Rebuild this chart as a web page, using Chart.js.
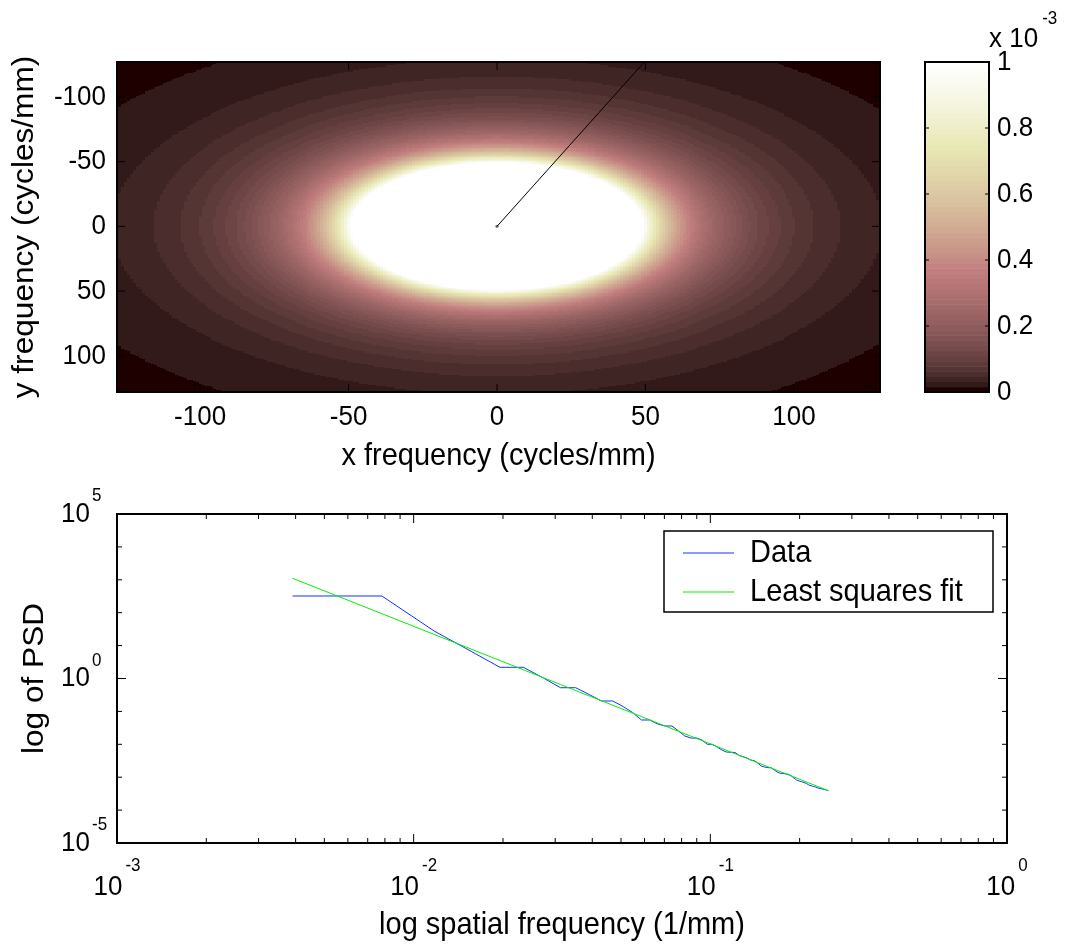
<!DOCTYPE html>
<html>
<head>
<meta charset="utf-8">
<title>PSD</title>
<script src="https://cdn.jsdelivr.net/npm/chart.js@4.4.1/dist/chart.umd.min.js"></script>
<style>
  body { margin: 0; background: #fff; width: 1065px; height: 945px; overflow: hidden; position: relative; }
  canvas { position: absolute; }
  #mapChart { left: 0; top: 0; }
  #barChart { left: 900px; top: 0; }
  #psdChart { left: 0; top: 480px; }
</style>
</head>
<body>
<canvas id="mapChart" width="900" height="480"></canvas>
<canvas id="barChart" width="165" height="480"></canvas>
<canvas id="psdChart" width="1065" height="465"></canvas>
<script>
// radially averaged PSD, one bin per 1/256 mm^-1
const binFreq = [
  0.003906, 0.007813, 0.01172, 0.01563, 0.01953, 0.02344, 0.02734, 0.03125,
  0.03516, 0.03906, 0.04297, 0.04688, 0.05078, 0.05469, 0.05859, 0.0625,
  0.06641, 0.07031, 0.07422, 0.07813, 0.08203, 0.08594, 0.08984, 0.09375,
  0.09766, 0.1016, 0.1055, 0.1094, 0.1133, 0.1172, 0.1211, 0.125,
  0.1289, 0.1328, 0.1367, 0.1406, 0.1445, 0.1484, 0.1523, 0.1563,
  0.1602, 0.1641, 0.1680, 0.1719, 0.1758, 0.1797, 0.1836, 0.1875,
  0.1914, 0.1953, 0.1992, 0.2031, 0.2070, 0.2109, 0.2148, 0.2188,
  0.2227, 0.2266, 0.2305, 0.2344, 0.2383, 0.2422, 0.2461, 0.25
];
const binPsd = [
  322, 322, 27.8, 6.67, 2.19, 2.19, 1.04, 0.525,
  0.525, 0.327, 0.207, 0.207, 0.141, 0.0927, 0.0548, 0.0548,
  0.0414, 0.0360, 0.0360, 0.0254, 0.0179, 0.0155, 0.0155, 0.0135,
  0.0100, 0.0100, 0.00828, 0.00671, 0.00583, 0.00571, 0.00564, 0.00457,
  0.00420, 0.00384, 0.00333, 0.00318, 0.00270, 0.00219, 0.00204, 0.00195,
  0.00195, 0.00166, 0.00144, 0.00131, 0.00131, 0.00125, 0.00122, 0.00109,
  0.000946, 0.000822, 0.000766, 0.000730, 0.000690, 0.000644, 0.000579, 0.000552,
  0.000521, 0.000504, 0.000470, 0.000454, 0.000438, 0.000423, 0.000408, 0.000389
];

// power-law least squares fit, end points of the fitted line
const fitFreq = [0.003906, 0.25];
const fitPsd = [1112, 0.000389];

// 2-D spectrum: cell grid (cycles/mm), frequency per cell, colour limit
const gridMin = -128;
const gridMax = 128;
const cellFreq = 1 / 256;
const colorMax = 1e-3;
const colorLevels = 64;

// radial profile line drawn over the map
const profileX = [0, 50];
const profileY = [0, -128];

// ticks
const mapTicks = [-100, -50, 0, 50, 100];
const barTicks = [0, 0.2, 0.4, 0.6, 0.8, 1];
const barTickText = ['0', '0.2', '0.4', '0.6', '0.8', '1'];
const freqDecades = [-3, -2, -1, 0];
const psdDecades = [-5, -4, -3, -2, -1, 0, 1, 2, 3, 4, 5];
const psdLabelled = [-5, 0, 5];

const FONT = '"Liberation Sans", Arial, Helvetica, sans-serif';
const TICK_FONT = '26px ' + FONT;
const TITLE_FONT = '29px ' + FONT;
const SUP_FONT = '17px ' + FONT;
const TEXT_SY = 1.09;   // glyphs are a little taller than wide

// MATLAB "pink" colormap
function pinkMap(m) {
  const n = Math.floor(3 / 8 * m);
  const out = [];
  for (let i = 0; i < m; i++) {
    const gray = i / (m - 1);
    const hr = i < n ? (i + 1) / n : 1;
    const hg = i < n ? 0 : (i < 2 * n ? (i + 1 - n) / n : 1);
    const hb = i < 2 * n ? 0 : (i + 1 - 2 * n) / (m - 2 * n);
    out.push([hr, hg, hb].map(h => Math.round(255 * Math.sqrt((2 * gray + h) / 3))));
  }
  return out;
}
const pink = pinkMap(colorLevels);

function fitLog(freq) {
  const lx0 = Math.log10(fitFreq[0]), lx1 = Math.log10(fitFreq[1]);
  const ly0 = Math.log10(fitPsd[0]), ly1 = Math.log10(fitPsd[1]);
  return ly0 + (ly1 - ly0) * (Math.log10(freq) - lx0) / (lx1 - lx0);
}

// paint the spectrum once into a small bitmap, one pixel per cell
function buildSpectrum() {
  const n = gridMax - gridMin + 1;
  const cv = document.createElement('canvas');
  cv.width = n;
  cv.height = n;
  const c = cv.getContext('2d');
  const img = c.createImageData(n, n);
  for (let j = 0; j < n; j++) {
    for (let i = 0; i < n; i++) {
      const r = Math.hypot(gridMin + i, gridMin + j);
      const v = r === 0 ? Infinity : Math.pow(10, fitLog(r * cellFreq));
      const idx = Math.max(0, Math.min(colorLevels - 1, Math.floor(v / colorMax * colorLevels)));
      const p = (j * n + i) * 4;
      img.data[p] = pink[idx][0];
      img.data[p + 1] = pink[idx][1];
      img.data[p + 2] = pink[idx][2];
      img.data[p + 3] = 255;
    }
  }
  c.putImageData(img, 0, 0);
  return cv;
}
const spectrum = buildSpectrum();

function seg(ctx, x0, y0, x1, y1) {
  ctx.beginPath();
  ctx.moveTo(x0, y0);
  ctx.lineTo(x1, y1);
  ctx.stroke();
}

// text with the slight vertical stretch, optionally turned
function text(ctx, str, x, y, font, align, baseline, angle) {
  ctx.save();
  ctx.translate(x, y);
  ctx.scale(1, TEXT_SY);
  if (angle) ctx.rotate(angle);
  ctx.font = font;
  ctx.textAlign = align;
  ctx.textBaseline = baseline;
  ctx.fillStyle = '#000';
  ctx.fillText(str, 0, 0);
  ctx.restore();
}

function textWidth(ctx, str, font) {
  ctx.save();
  ctx.font = font;
  const w = ctx.measureText(str).width;
  ctx.restore();
  return w;
}

function box(ctx, a) {
  ctx.strokeStyle = '#000';
  ctx.lineWidth = 2;
  ctx.strokeRect(a.left, a.top, a.right - a.left, a.bottom - a.top);
}

// inward ticks on both sides of the box
function xTicks(ctx, a, scale, values, len) {
  ctx.lineWidth = 1;
  values.forEach(v => {
    const p = scale.getPixelForValue(v);
    seg(ctx, p, a.bottom, p, a.bottom - len);
    seg(ctx, p, a.top, p, a.top + len);
  });
}
function yTicks(ctx, a, scale, values, len) {
  ctx.lineWidth = 1;
  values.forEach(v => {
    const p = scale.getPixelForValue(v);
    seg(ctx, a.left, p, a.left + len, p);
    seg(ctx, a.right, p, a.right - len, p);
  });
}

const spectrumPlugin = {
  id: 'spectrum',
  beforeDatasetsDraw(chart) {
    const { ctx, chartArea: a, scales: { x, y } } = chart;
    const left = x.getPixelForValue(gridMin - 0.5);
    const right = x.getPixelForValue(gridMax + 0.5);
    const top = y.getPixelForValue(gridMin - 0.5);
    const bottom = y.getPixelForValue(gridMax + 0.5);
    ctx.save();
    ctx.beginPath();
    ctx.rect(a.left, a.top, a.right - a.left, a.bottom - a.top);
    ctx.clip();
    ctx.imageSmoothingEnabled = false;
    ctx.drawImage(spectrum, left, top, right - left, bottom - top);
    ctx.restore();
  },
  afterDraw(chart) {
    const { ctx, chartArea: a, scales: { x, y } } = chart;
    ctx.save();
    ctx.strokeStyle = '#000';
    xTicks(ctx, a, x, mapTicks, 8);
    yTicks(ctx, a, y, mapTicks, 8);
    box(ctx, a);
    mapTicks.forEach(v => text(ctx, String(v), x.getPixelForValue(v), a.bottom + 33, TICK_FONT, 'center', 'alphabetic'));
    mapTicks.forEach(v => text(ctx, String(v), a.left - 11, y.getPixelForValue(v), TICK_FONT, 'right', 'middle'));
    text(ctx, 'x frequency (cycles/mm)', (a.left + a.right) / 2, a.bottom + 73, TITLE_FONT, 'center', 'alphabetic');
    text(ctx, 'y frequency (cycles/mm)', 33, (a.top + a.bottom) / 2, TITLE_FONT, 'center', 'alphabetic', -Math.PI / 2);
    ctx.restore();
  }
};

const colorbarPlugin = {
  id: 'colorbar',
  beforeDatasetsDraw(chart) {
    const { ctx, chartArea: a, scales: { y } } = chart;
    for (let i = 0; i < colorLevels; i++) {
      const y0 = y.getPixelForValue(i / colorLevels);
      const y1 = y.getPixelForValue((i + 1) / colorLevels);
      ctx.fillStyle = `rgb(${pink[i].join(',')})`;
      ctx.fillRect(a.left, y1, a.right - a.left, y0 - y1 + 0.5);
    }
  },
  afterDraw(chart) {
    const { ctx, chartArea: a, scales: { y } } = chart;
    ctx.save();
    ctx.strokeStyle = '#000';
    yTicks(ctx, a, y, barTicks, 4);
    box(ctx, a);
    barTicks.forEach((v, i) => text(ctx, barTickText[i], a.right + 8, y.getPixelForValue(v), TICK_FONT, 'left', 'middle'));
    text(ctx, 'x 10', a.right, a.top - 15, TICK_FONT, 'left', 'alphabetic');
    const w = textWidth(ctx, 'x 10', TICK_FONT);
    text(ctx, '-3', a.right + w + 4, a.top - 38, SUP_FONT, 'left', 'alphabetic');
    ctx.restore();
  }
};

// "10" with a raised exponent
function powerLabelX(ctx, exp, px, baseY) {
  const wb = textWidth(ctx, '10', TICK_FONT);
  const we = textWidth(ctx, String(exp), SUP_FONT);
  const x0 = px - (wb + 3 + we) / 2;
  text(ctx, '10', x0, baseY, TICK_FONT, 'left', 'alphabetic');
  text(ctx, String(exp), x0 + wb + 3, baseY - 24, SUP_FONT, 'left', 'alphabetic');
}
function powerLabelY(ctx, exp, right, py) {
  text(ctx, '10', right, py, TICK_FONT, 'right', 'middle');
  text(ctx, String(exp), right + 2, py - 13, SUP_FONT, 'left', 'alphabetic');
}

const psdAxesPlugin = {
  id: 'psdAxes',
  afterDraw(chart) {
    const { ctx, chartArea: a, scales: { x, y } } = chart;
    ctx.save();
    ctx.strokeStyle = '#000';
    const minor = [];
    freqDecades.slice(0, -1).forEach(d => {
      for (let m = 2; m <= 9; m++) minor.push(m * Math.pow(10, d));
    });
    xTicks(ctx, a, x, minor, 5);
    xTicks(ctx, a, x, freqDecades.map(d => Math.pow(10, d)), 9);
    yTicks(ctx, a, y, psdDecades.filter(d => !psdLabelled.includes(d)).map(d => Math.pow(10, d)), 5);
    yTicks(ctx, a, y, psdLabelled.map(d => Math.pow(10, d)), 9);
    box(ctx, a);

    freqDecades.forEach(d => powerLabelX(ctx, d, x.getPixelForValue(Math.pow(10, d)), a.bottom + 52));
    psdLabelled.forEach(d => powerLabelY(ctx, d, a.left - 27, y.getPixelForValue(Math.pow(10, d))));

    text(ctx, 'log spatial frequency (1/mm)', (a.left + a.right) / 2, a.bottom + 91, TITLE_FONT, 'center', 'alphabetic');
    text(ctx, 'log of PSD', 43, (a.top + a.bottom) / 2, TITLE_FONT, 'center', 'alphabetic', -Math.PI / 2);

    // legend box in the upper right corner
    const lx = a.right - 343, ly = a.top + 17, lw = 329, lh = 81;
    ctx.fillStyle = '#fff';
    ctx.fillRect(lx, ly, lw, lh);
    ctx.lineWidth = 1.5;
    ctx.strokeStyle = '#000';
    ctx.strokeRect(lx, ly, lw, lh);
    chart.data.datasets.forEach((ds, i) => {
      const ry = ly + 22 + i * 39;
      ctx.strokeStyle = ds.borderColor;
      ctx.lineWidth = 1;
      seg(ctx, lx + 19, ry, lx + 70, ry);
      text(ctx, ds.label, lx + 86, ry, TITLE_FONT, 'left', 'middle');
    });
    ctx.restore();
  }
};

new Chart(document.getElementById('mapChart'), {
  type: 'scatter',
  data: {
    datasets: [{
      label: 'profile',
      data: profileX.map((x, i) => ({ x, y: profileY[i] })),
      showLine: true,
      borderColor: '#000',
      borderWidth: 1,
      pointRadius: 0
    }, {
      label: 'origin',
      data: [{ x: profileX[0], y: profileY[0] }],
      pointRadius: 1.6,
      borderWidth: 0,
      backgroundColor: '#8c6a6a'
    }]
  },
  options: {
    responsive: false,
    animation: false,
    events: [],
    layout: { padding: { left: 117, top: 62, right: 20, bottom: 88 } },
    plugins: { legend: { display: false }, tooltip: { enabled: false } },
    scales: {
      x: { type: 'linear', min: -128, max: 129, display: false },
      y: { type: 'linear', min: -127, max: 128, reverse: true, display: false }
    }
  },
  plugins: [spectrumPlugin]
});

new Chart(document.getElementById('barChart'), {
  type: 'scatter',
  data: { datasets: [] },
  options: {
    responsive: false,
    animation: false,
    events: [],
    layout: { padding: { left: 25, top: 62, right: 76, bottom: 88 } },
    plugins: { legend: { display: false }, tooltip: { enabled: false } },
    scales: {
      x: { type: 'linear', min: 0, max: 1, display: false },
      y: { type: 'linear', min: 0, max: 1, display: false }
    }
  },
  plugins: [colorbarPlugin]
});

new Chart(document.getElementById('psdChart'), {
  type: 'scatter',
  data: {
    datasets: [{
      label: 'Data',
      data: binFreq.map((f, i) => ({ x: f, y: binPsd[i] })),
      showLine: true,
      borderColor: 'rgb(20,50,255)',
      borderWidth: 1,
      pointRadius: 0,
      order: 2
    }, {
      label: 'Least squares fit',
      data: fitFreq.map((f, i) => ({ x: f, y: fitPsd[i] })),
      showLine: true,
      borderColor: 'rgb(0,240,0)',
      borderWidth: 1,
      pointRadius: 0,
      order: 1
    }]
  },
  options: {
    responsive: false,
    animation: false,
    events: [],
    layout: { padding: { left: 117, top: 34, right: 58, bottom: 102 } },
    plugins: { legend: { display: false }, tooltip: { enabled: false } },
    scales: {
      x: { type: 'logarithmic', min: 1e-3, max: 1, display: false },
      y: { type: 'logarithmic', min: 1e-5, max: 1e5, display: false }
    }
  },
  plugins: [psdAxesPlugin]
});
</script>
</body>
</html>
